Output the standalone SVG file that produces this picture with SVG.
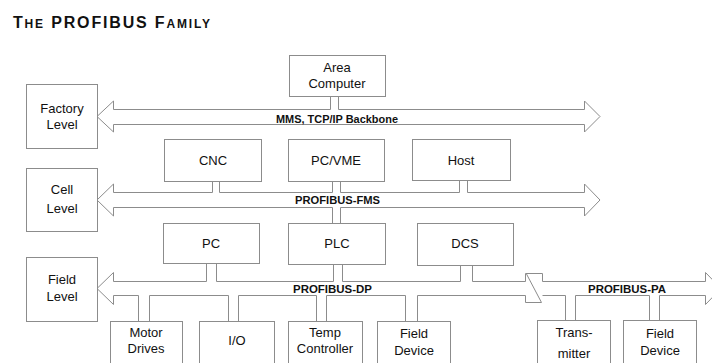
<svg xmlns="http://www.w3.org/2000/svg" width="712" height="363" viewBox="0 0 712 363">
<style>
.box{fill:#fff;stroke:#8c8c8c;stroke-width:1}
.ln{fill:none;stroke:#8c8c8c;stroke-width:1}
.t{font-family:"Liberation Sans",Arial,sans-serif;font-size:13px;fill:#111;text-anchor:middle}
.bl{font-family:"Liberation Sans",Arial,sans-serif;font-size:10px;font-weight:bold;fill:#111}
.title{font-family:"Liberation Sans",Arial,sans-serif;font-weight:bold;fill:#111}
</style>
<rect width="712" height="363" fill="#fff"/>
<text class="title" x="13" y="28" font-size="16" textLength="197" lengthAdjust="spacing">T<tspan font-size="12">HE</tspan> PROFIBUS F<tspan font-size="12">AMILY</tspan></text>

<g id="connectors">
  <!-- Factory bus (MMS, TCP/IP) -->
  <path class="ln" d="M330.5,96 V109.5 H113.5 V101 L97,116.5 L113.5,132 V124.5 H584.5 V132 L600,116.5 L584.5,101 V109.5 H338.5 V96"/>
  <!-- Cell bus (PROFIBUS-FMS) -->
  <path class="ln" d="M212.5,181 V192.5 H113.5 V184 L97,200 L113.5,216 V207.5 H332.5 V223"/>
  <path class="ln" d="M219.5,181 V192.5 H332.5 V181"/>
  <path class="ln" d="M340.5,181 V192.5 H459.5 V180"/>
  <path class="ln" d="M467.5,180 V192.5 H584.5 V184 L600,200 L584.5,216 V207.5 H340.5 V223"/>
  <!-- Field bus (PROFIBUS-DP / PROFIBUS-PA) top -->
  <path class="ln" d="M206.5,263 V281.5 H113.5 V272.5 L97,288.5 L113.5,304.5 V295.5 H138.5 V321"/>
  <path class="ln" d="M216.5,263 V281.5 H333.5 V264"/>
  <path class="ln" d="M342.5,264 V281.5 H460.5 V265"/>
  <path class="ln" d="M472.5,265 V281.5 H525.5 V273.5 H542.5 V281.5 H705.5 V272.5 L721,288.5 L705.5,304.5 V295.5 H659.5 V321"/>
  <!-- Field bus bottom segments -->
  <path class="ln" d="M149.5,321 V295.5 H228.5 V321"/>
  <path class="ln" d="M238.5,321 V295.5 H316.5 V321"/>
  <path class="ln" d="M326.5,321 V295.5 H405.5 V321"/>
  <path class="ln" d="M417.5,321 V295.5 H525.5 V302.5 H541.5"/>
  <path class="ln" d="M526.5,274 L541.5,302.5"/>
  <path class="ln" d="M542.5,295.5 H565.5 V320"/>
  <path class="ln" d="M575.5,320 V295.5 H649.5 V320"/>
</g>

<text class="bl" x="276" y="122.5" textLength="122" lengthAdjust="spacingAndGlyphs">MMS, TCP/IP Backbone</text>
<text class="bl" x="295" y="203.5" textLength="85" lengthAdjust="spacingAndGlyphs">PROFIBUS-FMS</text>
<text class="bl" x="293" y="292.5" textLength="79" lengthAdjust="spacingAndGlyphs">PROFIBUS-DP</text>
<text class="bl" x="588" y="292.5" textLength="78" lengthAdjust="spacingAndGlyphs">PROFIBUS-PA</text>

<g id="factory-level"><rect class="box" x="26.5" y="84.5" width="71" height="64"/><text class="t" x="62" y="113">Factory</text><text class="t" x="62" y="129">Level</text></g>
<g id="cell-level"><rect class="box" x="26.5" y="168.5" width="71" height="63"/><text class="t" x="62" y="194">Cell</text><text class="t" x="62" y="213">Level</text></g>
<g id="field-level"><rect class="box" x="26.5" y="257.5" width="71" height="64"/><text class="t" x="62" y="284">Field</text><text class="t" x="62" y="301">Level</text></g>

<g id="area-computer"><rect class="box" x="289.5" y="55.5" width="96" height="41"/><text class="t" x="337" y="72">Area</text><text class="t" x="337" y="88">Computer</text></g>
<g id="cnc"><rect class="box" x="164.5" y="139.5" width="97" height="42"/><text class="t" x="213" y="165">CNC</text></g>
<g id="pc-vme"><rect class="box" x="288.5" y="139.5" width="96" height="42"/><text class="t" x="336" y="165">PC/VME</text></g>
<g id="host"><rect class="box" x="412.5" y="139.5" width="98" height="41"/><text class="t" x="461" y="165">Host</text></g>
<g id="pc"><rect class="box" x="163.5" y="223.5" width="96" height="40"/><text class="t" x="211" y="248">PC</text></g>
<g id="plc"><rect class="box" x="288.5" y="223.5" width="97" height="41"/><text class="t" x="337" y="248">PLC</text></g>
<g id="dcs"><rect class="box" x="417.5" y="223.5" width="96" height="42"/><text class="t" x="465" y="248">DCS</text></g>

<g id="motor-drives"><rect class="box" x="110.5" y="321.5" width="72" height="60"/><text class="t" x="146" y="337">Motor</text><text class="t" x="146" y="353">Drives</text></g>
<g id="io"><rect class="box" x="199.5" y="321.5" width="75" height="60"/><text class="t" x="237" y="345">I/O</text></g>
<g id="temp-controller"><rect class="box" x="288.5" y="321.5" width="74" height="60"/><text class="t" x="325" y="337">Temp</text><text class="t" x="325" y="353">Controller</text></g>
<g id="field-device-1"><rect class="box" x="377.5" y="321.5" width="73" height="60"/><text class="t" x="414" y="338">Field</text><text class="t" x="414" y="355">Device</text></g>
<g id="transmitter"><rect class="box" x="537.5" y="320.5" width="73" height="60"/><text class="t" x="574" y="337">Trans-</text><text class="t" x="574" y="358">mitter</text></g>
<g id="field-device-2"><rect class="box" x="623.5" y="320.5" width="73" height="60"/><text class="t" x="660" y="338">Field</text><text class="t" x="660" y="355">Device</text></g>
</svg>
